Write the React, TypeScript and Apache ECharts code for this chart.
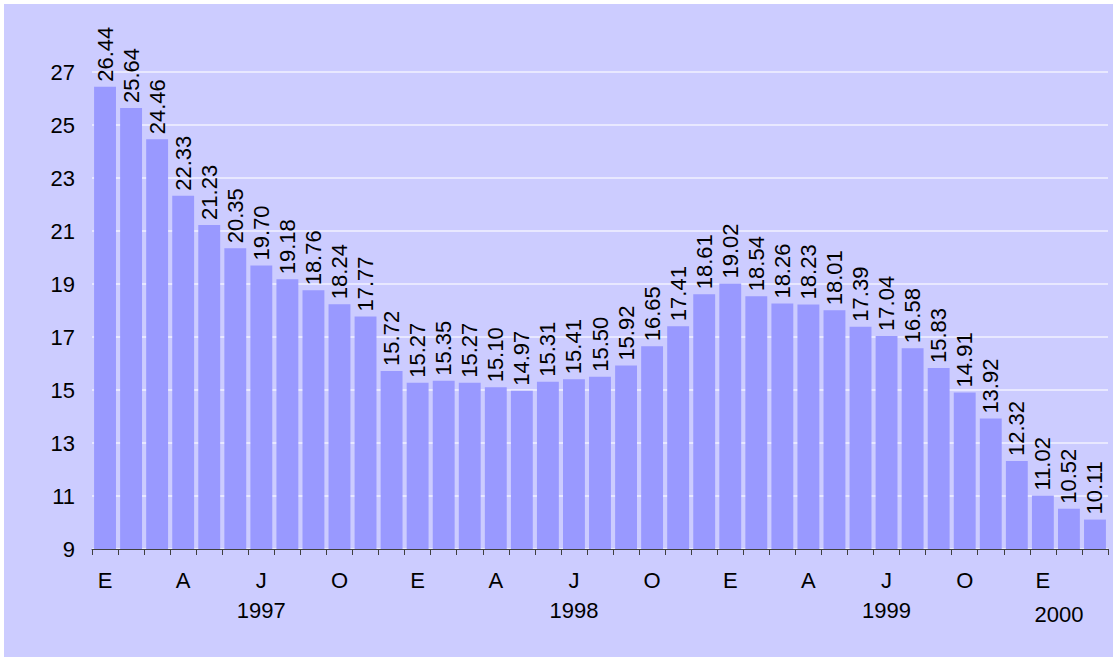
import React, { useEffect, useRef } from "react";
import * as echarts from "echarts";

const monthInitials = ["E", "F", "M", "A", "M", "J", "J", "A", "S", "O", "N", "D"];
const years = ["1997", "1998", "1999", "2000"];
const values1997 = [26.44, 25.64, 24.46, 22.33, 21.23, 20.35, 19.7, 19.18, 18.76, 18.24, 17.77, 15.72];
const values1998 = [15.27, 15.35, 15.27, 15.1, 14.97, 15.31, 15.41, 15.5, 15.92, 16.65, 17.41, 18.61];
const values1999 = [19.02, 18.54, 18.26, 18.23, 18.01, 17.39, 17.04, 16.58, 15.83, 14.91, 13.92, 12.32];
const values2000 = [11.02, 10.52, 10.11];
const yTicks = [9, 11, 13, 15, 17, 19, 21, 23, 25, 27];
// category (year-month) under which each year label is written
const yearLabelAt: Record<string, string> = {
  "1997-07": "1997",
  "1998-07": "1998",
  "1999-07": "1999",
  "2000-02": "2000",
};

const yearValues = [values1997, values1998, values1999, values2000];
const categories: string[] = [];
const values: number[] = [];
yearValues.forEach((arr, yi) => {
  arr.forEach((v, mi) => {
    categories.push(`${years[yi]}-${String(mi + 1).padStart(2, "0")}`);
    values.push(v);
  });
});

const FONT = "'Liberation Sans', Arial, sans-serif";
const FS = 22;

export default function App() {
  const ref = useRef<HTMLDivElement>(null);
  useEffect(() => {
    if (!ref.current) return;
    const chart = echarts.init(ref.current, null, { renderer: "svg" });
    const yMin = yTicks[0];
    const yStep = yTicks[1] - yTicks[0];
    const yMax = yTicks[yTicks.length - 1] + yStep;
    const nLines = Math.round((yMax - yMin) / yStep) + 1;
    const gridColors = Array.from({ length: nLines }, (_, i) =>
      i === nLines - 1 ? "rgba(0,0,0,0)" : "#F2F2FF"
    );
    chart.setOption({
      animation: false,
      backgroundColor: "#CCCCFF",
      textStyle: { fontFamily: FONT },
      grid: { left: 88, right: 5, top: 15, bottom: 108 },
      xAxis: [
        {
          type: "category",
          data: categories,
          position: "bottom",
          axisLine: { show: true, lineStyle: { color: "#404040", width: 1 } },
          axisTick: { show: true, interval: 0, length: 6, lineStyle: { color: "#404040" } },
          axisLabel: {
            interval: 2,
            margin: 20,
            color: "#000",
            fontSize: FS,
            fontFamily: FONT,
            formatter: (v: string) => monthInitials[parseInt(v.slice(5), 10) - 1],
          },
        },
        {
          type: "category",
          data: categories,
          position: "bottom",
          axisLine: { show: false },
          axisTick: { show: false },
          splitLine: { show: false },
          axisLabel: {
            interval: 0,
            margin: 50,
            color: "#000",
            fontSize: FS,
            fontFamily: FONT,
            formatter: (v: string) => {
              const y = yearLabelAt[v];
              if (!y) return "";
              return v.startsWith("2000") ? `{s|${y}}` : y;
            },
            rich: {
              s: { fontSize: FS, fontFamily: FONT, color: "#000", padding: [4, 20, 0, 0] },
            },
          },
        },
      ],
      yAxis: {
        type: "value",
        min: yMin,
        max: yMax,
        interval: yStep,
        axisLine: { show: false },
        axisTick: { show: false },
        axisLabel: {
          margin: 17,
          color: "#000",
          fontSize: FS,
          fontFamily: FONT,
          showMaxLabel: false,
        },
        splitLine: { show: true, lineStyle: { color: gridColors, width: 1.5 } },
      },
      series: [
        {
          type: "bar",
          data: values,
          xAxisIndex: 0,
          barCategoryGap: "16%",
          itemStyle: { color: "#9999FF" },
          label: {
            show: true,
            position: "top",
            rotate: 90,
            align: "left",
            verticalAlign: "middle",
            distance: 5,
            color: "#000",
            fontSize: FS,
            fontFamily: FONT,
            formatter: (p: any) => Number(p.value).toFixed(2),
          },
        },
      ],
    });
    return () => chart.dispose();
  }, []);
  return (
    <div style={{ position: "fixed", left: 0, top: 0, width: 1113, height: 657, background: "#fff" }}>
      <div ref={ref} style={{ position: "absolute", left: 4, top: 4, width: 1109, height: 653 }} />
    </div>
  );
}
